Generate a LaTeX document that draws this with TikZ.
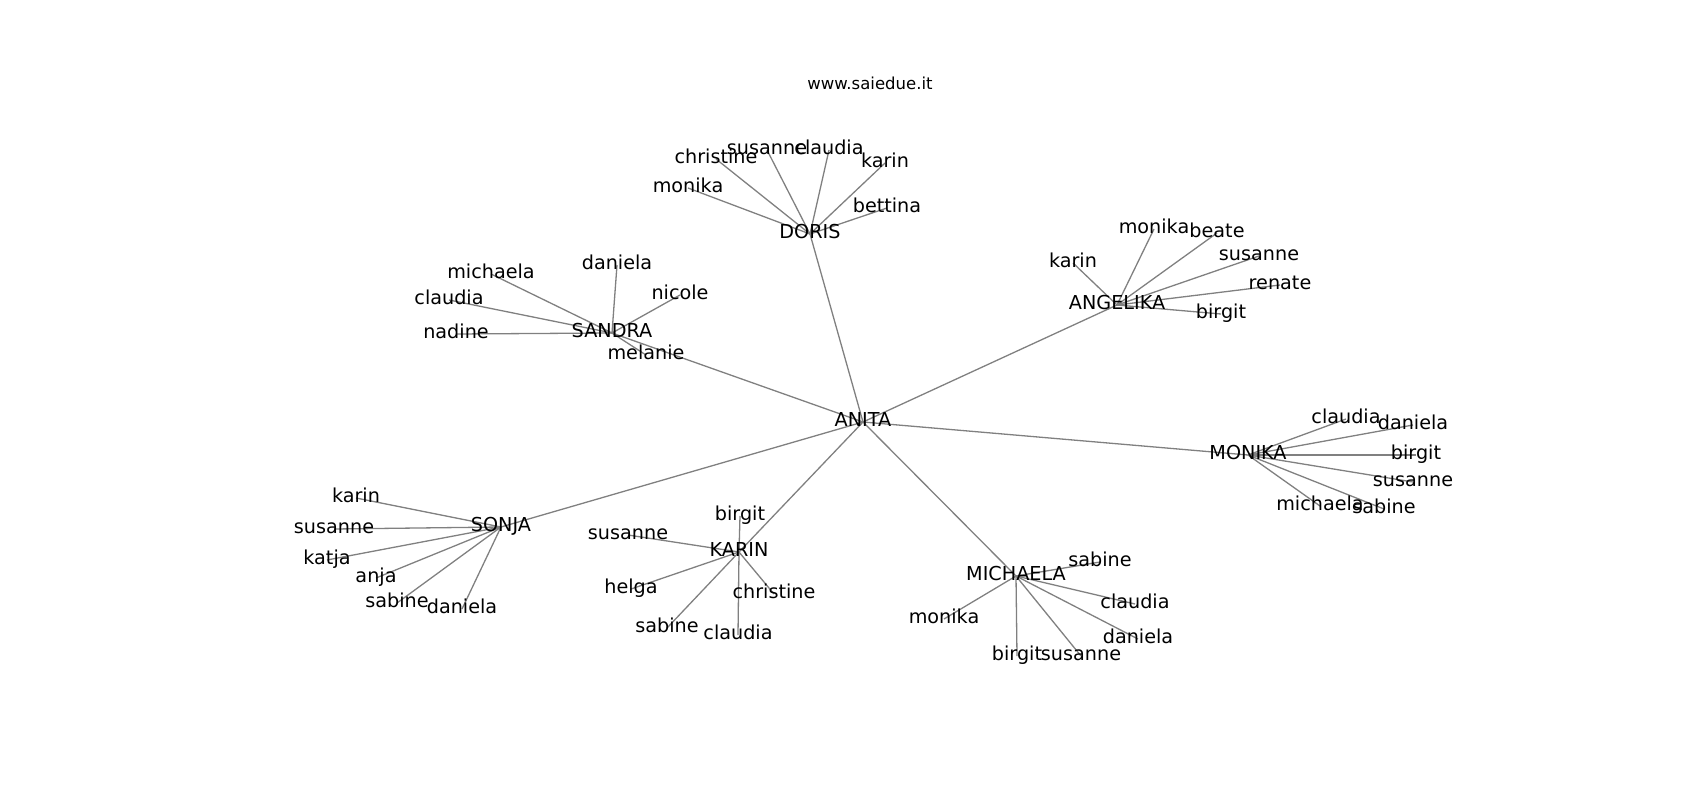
\documentclass[tikz,border=0pt]{standalone}
\usepackage{fontspec}
\setmainfont{DejaVu Sans}
\usetikzlibrary{backgrounds}
\begin{document}
\begin{tikzpicture}[x=1pt,y=-1pt,
  lbl/.style={font=\fontsize{19.2}{23}\selectfont, inner sep=0pt, text height=0.94em, text depth=0em, anchor=center, text=black},
  ttl/.style={font=\fontsize{16.5}{20}\selectfont, inner sep=0pt, text height=0.76em, text depth=0.24em, anchor=center},
  edge/.style={draw=gray, line width=1.3pt}]
\useasboundingbox (0,0) rectangle (1700,800);
\node[ttl] (title) at (870,87) {www.saiedue.it};
% hubs
\node[lbl] (anita) at (863,422) {ANITA};
\node[lbl] (doris) at (810,234) {DORIS};
\node[lbl] (sandra) at (612,333) {SANDRA};
\node[lbl] (angelika) at (1117,305) {ANGELIKA};
\node[lbl] (monika) at (1248,455) {MONIKA};
\node[lbl] (sonja) at (501,527) {SONJA};
\node[lbl] (karin) at (739,552) {KARIN};
\node[lbl] (michaela) at (1016,576) {MICHAELA};
% DORIS leaves
\node[lbl] (d1) at (688,188) {monika};
\node[lbl] (d2) at (716,159) {christine};
\node[lbl] (d3) at (767,150) {susanne};
\node[lbl] (d4) at (829,150) {claudia};
\node[lbl] (d5) at (885,163) {karin};
\node[lbl] (d6) at (887,208) {bettina};
% SANDRA leaves
\node[lbl] (s1) at (491,274) {michaela};
\node[lbl] (s2) at (449,300) {claudia};
\node[lbl] (s3) at (456,334) {nadine};
\node[lbl] (s4) at (617,265) {daniela};
\node[lbl] (s5) at (680,295) {nicole};
\node[lbl] (s6) at (646,355) {melanie};
% ANGELIKA leaves
\node[lbl] (a1) at (1073,263) {karin};
\node[lbl] (a2) at (1154,229) {monika};
\node[lbl] (a3) at (1217,233) {beate};
\node[lbl] (a4) at (1259,256) {susanne};
\node[lbl] (a5) at (1280,285) {renate};
\node[lbl] (a6) at (1221,314) {birgit};
% MONIKA leaves
\node[lbl] (m1) at (1346,419) {claudia};
\node[lbl] (m2) at (1413,425) {daniela};
\node[lbl] (m3) at (1416,455) {birgit};
\node[lbl] (m4) at (1413,482) {susanne};
\node[lbl] (m5) at (1384,509) {sabine};
\node[lbl] (m6) at (1320,506) {michaela};
% SONJA leaves
\node[lbl] (o1) at (356,498) {karin};
\node[lbl] (o2) at (334,529) {susanne};
\node[lbl] (o3) at (327,560) {katja};
\node[lbl] (o4) at (376,578) {anja};
\node[lbl] (o5) at (397,603) {sabine};
\node[lbl] (o6) at (462,609) {daniela};
% KARIN leaves
\node[lbl] (k1) at (740,516) {birgit};
\node[lbl] (k2) at (628,535) {susanne};
\node[lbl] (k3) at (631,589) {helga};
\node[lbl] (k4) at (774,594) {christine};
\node[lbl] (k5) at (667,628) {sabine};
\node[lbl] (k6) at (738,635) {claudia};
% MICHAELA leaves
\node[lbl] (c1) at (1100,562) {sabine};
\node[lbl] (c2) at (1135,604) {claudia};
\node[lbl] (c3) at (1138,639) {daniela};
\node[lbl] (c4) at (1081,656) {susanne};
\node[lbl] (c5) at (1017,656) {birgit};
\node[lbl] (c6) at (944,619) {monika};
\begin{scope}[on background layer]
\foreach \h in {doris,sandra,angelika,monika,sonja,karin,michaela}
  \draw[edge] (anita.center) -- (\h.center);
\foreach \i in {1,...,6} {
  \draw[edge] (doris.center) -- (d\i.center);
  \draw[edge] (sandra.center) -- (s\i.center);
  \draw[edge] (angelika.center) -- (a\i.center);
  \draw[edge] (monika.center) -- (m\i.center);
  \draw[edge] (sonja.center) -- (o\i.center);
  \draw[edge] (karin.center) -- (k\i.center);
  \draw[edge] (michaela.center) -- (c\i.center);
}
\end{scope}
\end{tikzpicture}
\end{document}
